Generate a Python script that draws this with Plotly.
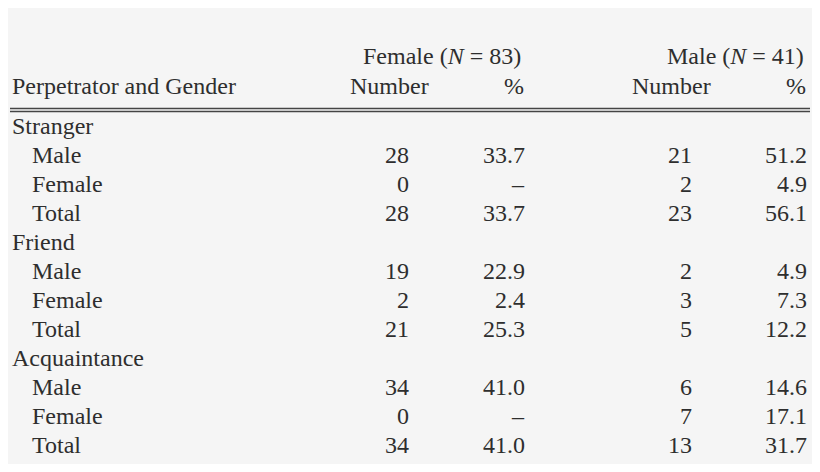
import plotly.graph_objects as go

row_labels = ["Stranger", "Male", "Female", "Total",
              "Friend", "Male", "Female", "Total",
              "Acquaintance", "Male", "Female", "Total"]
is_group = [True, False, False, False, True, False, False, False, True, False, False, False]
female_num = ["", "28", "0", "28", "", "19", "2", "21", "", "34", "0", "34"]
female_pct = ["", "33.7", "–", "33.7", "", "22.9", "2.4", "25.3", "", "41.0", "–", "41.0"]
male_num = ["", "21", "2", "23", "", "2", "3", "5", "", "6", "7", "13"]
male_pct = ["", "51.2", "4.9", "56.1", "", "4.9", "7.3", "12.2", "", "14.6", "17.1", "31.7"]

# page has an 8px body margin, so draw in a slightly smaller figure
OFF = 8
W, H = 820 - 2 * OFF, 472 - 2 * OFF
FONT = dict(family="Liberation Serif, DejaVu Serif, serif", size=24, color="#2e2e2e")

fig = go.Figure()
ann = []

def txt(x, y, s, anchor="left"):
    ann.append(dict(x=(x - OFF) / W, y=1 - (y - OFF) / H, xref="paper", yref="paper", text=s,
                    showarrow=False, xanchor=anchor, yanchor="middle", font=FONT))

# header
txt(523, 56, "Female (<i>N</i> = 83)", "right")
txt(806, 56, "Male (<i>N</i> = 41)", "right")
txt(10, 86, "Perpetrator and Gender")
txt(389, 86, "Number", "center")
txt(526, 86, "%", "right")
txt(671, 86, "Number", "center")
txt(808, 86, "%", "right")

y0, dy = 126, 29
for i, lab in enumerate(row_labels):
    y = y0 + i * dy
    txt(10 if is_group[i] else 30, y, lab)
    txt(411, y, female_num[i], "right")
    txt(527, y, female_pct[i], "right")
    txt(694, y, male_num[i], "right")
    txt(809, y, male_pct[i], "right")

shapes = [dict(type="line", xref="paper", yref="paper", x0=(10 - OFF) / W, x1=(810 - OFF) / W,
               y0=1 - (yy - OFF) / H, y1=1 - (yy - OFF) / H, line=dict(color="#444444", width=1.3))
          for yy in (108.5, 111.5)]

fig.update_layout(width=W, height=H, margin=dict(l=0, r=0, t=0, b=0),
                  paper_bgcolor="#f5f5f5", plot_bgcolor="#f5f5f5",
                  xaxis=dict(visible=False), yaxis=dict(visible=False),
                  annotations=ann, shapes=shapes, showlegend=False)
fig.write_html("out.html")
